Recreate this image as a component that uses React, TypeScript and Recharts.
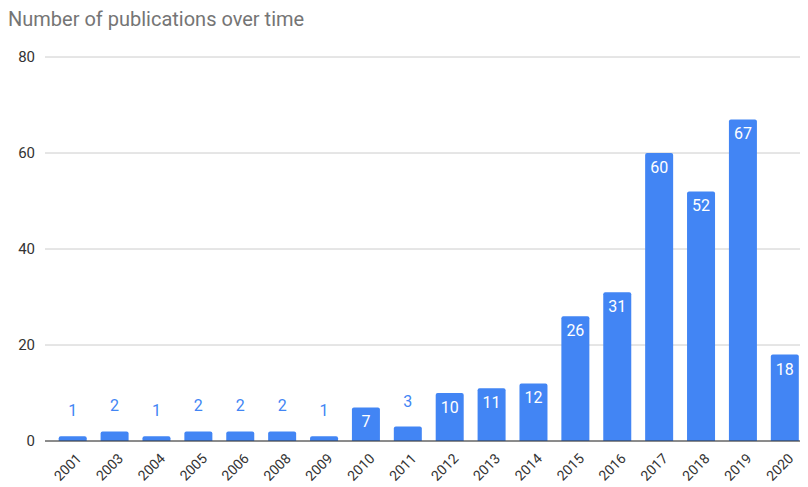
import { BarChart, Bar, XAxis, YAxis, CartesianGrid, LabelList } from 'recharts'

const years = ['2001', '2003', '2004', '2005', '2006', '2008', '2009', '2010', '2011', '2012', '2013', '2014', '2015', '2016', '2017', '2018', '2019', '2020']
const counts = [1, 2, 1, 2, 2, 2, 1, 7, 3, 10, 11, 12, 26, 31, 60, 52, 67, 18]
const yTicks = [0, 20, 40, 60, 80]

const data = years.map((year, i) => ({ year, count: counts[i] }))

const FONT = 'Roboto, Arial, sans-serif'

function ValueLabel(props: any) {
  const { x, y, width, value } = props
  const cx = x + width / 2
  if (value < 5) {
    return (
      <text x={cx} y={y - 20} textAnchor="middle" fontSize={16} fill="#4285F4" fontFamily={FONT}>
        {value}
      </text>
    )
  }
  return (
    <text x={cx} y={y + 20} textAnchor="middle" fontSize={16} fill="#ffffff" fontFamily={FONT}>
      {value}
    </text>
  )
}

function YearTick(props: any) {
  const { x, y, payload } = props
  const tx = x + 2
  const ty = y + 3
  return (
    <text
      x={tx}
      y={ty}
      textAnchor="end"
      fontSize={14}
      fill="#333"
      fontFamily={FONT}
      transform={`rotate(-45, ${tx}, ${ty})`}
      dominantBaseline="hanging"
    >
      {payload.value}
    </text>
  )
}

export default function App() {
  return (
    <div style={{ position: 'relative', width: 798, height: 479, fontFamily: FONT }}>
      <div style={{ position: 'absolute', left: 0, top: -1, fontSize: 20, color: '#757575' }}>
        Number of publications over time
      </div>
      <BarChart
        width={798}
        height={479}
        data={data}
        margin={{ top: 49, right: 0, bottom: 0, left: 0 }}
        barCategoryGap="16%"
      >
        <CartesianGrid vertical={false} stroke="#cccccc" />
        <XAxis
          dataKey="year"
          height={46}
          interval={0}
          tickLine={false}
          axisLine={{ stroke: '#333' }}
          padding={{ left: 7, right: 0 }}
          tick={<YearTick />}
        />
        <YAxis
          width={37}
          domain={[0, 80]}
          ticks={yTicks}
          tickLine={false}
          axisLine={false}
          tickMargin={4}
          tick={{ fontSize: 15, fill: '#333', fontFamily: FONT }}
        />
        <Bar dataKey="count" fill="#4285F4" radius={[2, 2, 0, 0]} isAnimationActive={false}>
          <LabelList dataKey="count" content={<ValueLabel />} />
        </Bar>
      </BarChart>
    </div>
  )
}
